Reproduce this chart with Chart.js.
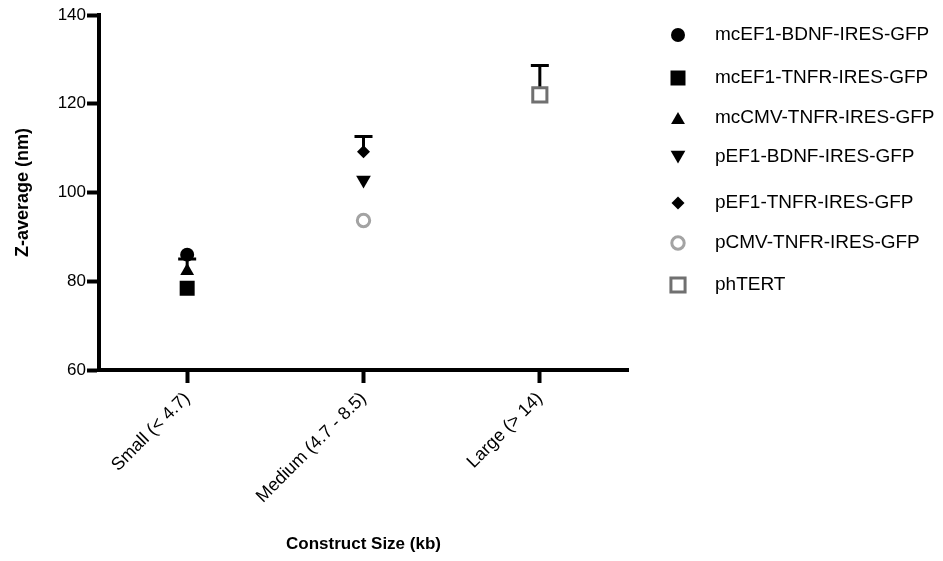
<!DOCTYPE html>
<html>
<head>
<meta charset="utf-8">
<script src="https://cdn.jsdelivr.net/npm/chart.js@4"></script>
<style>
    html, body { margin: 0; padding: 0; background: #fff; }
    #wrap { width: 943px; height: 561px; position: relative; }
</style>
</head>
<body>
<div id="wrap"><canvas id="zavg-chart"></canvas></div>
<script>
// Z-average by construct size, one series per plasmid
const categories = ['Small (< 4.7)', 'Medium (4.7 - 8.5)', 'Large (> 14)'];
const seriesNames = [
    'mcEF1-BDNF-IRES-GFP',
    'mcEF1-TNFR-IRES-GFP',
    'mcCMV-TNFR-IRES-GFP',
    'pEF1-BDNF-IRES-GFP',
    'pEF1-TNFR-IRES-GFP',
    'pCMV-TNFR-IRES-GFP',
    'phTERT',
];
const yTicks = [60, 80, 100, 120, 140];

const mcEF1Bdnf = [86.0, null, null];
const mcEF1Tnfr = [78.4, null, null];
const mcCmvTnfr = [82.3, null, null];
const pEF1Bdnf = [null, 102.8, null];
const pEF1Tnfr = [null, 109.2, null];
const pCmvTnfr = [null, 93.7, null];
const phTert = [null, null, 122.0];

// upper error bars (only the visible ones)
const mcCmvTnfrErr = [2.7, null, null];
const pEF1TnfrErr = [null, 3.4, null];
const phTertErr = [null, null, 6.6];

// ============================================
// MARKER STYLES
// ============================================
const markers = [
    { style: 'circle', r: 7, fill: '#000', stroke: '#000', bw: 0 },
    { style: 'rect', r: 10.6, fill: '#000', stroke: '#000', bw: 0 },
    { style: 'triangle', r: 8, fill: '#000', stroke: '#000', bw: 0 },
    { style: 'triangle', r: 8.5, fill: '#000', stroke: '#000', bw: 0, rot: 180 },
    { style: 'rectRot', r: 6.5, fill: '#000', stroke: '#000', bw: 0 },
    { style: 'circle', r: 6.2, fill: '#fff', stroke: '#a3a3a3', bw: 3 },
    { style: 'rect', r: 10, fill: '#fff', stroke: '#707070', bw: 3 },
];

const seriesData = [mcEF1Bdnf, mcEF1Tnfr, mcCmvTnfr, pEF1Bdnf, pEF1Tnfr, pCmvTnfr, phTert];
const seriesErr = [null, null, mcCmvTnfrErr, null, pEF1TnfrErr, null, phTertErr];

const font = "'Liberation Sans', Arial, Helvetica, sans-serif";

// error bars, drawn behind the markers
const errorBars = {
    id: 'errorBars',
    beforeDatasetsDraw(chart) {
        const ctx = chart.ctx;
        const y = chart.scales.y;
        ctx.save();
        ctx.strokeStyle = '#000';
        ctx.lineWidth = 3;
        chart.data.datasets.forEach((ds, di) => {
            const err = seriesErr[di];
            if (!err) return;
            const meta = chart.getDatasetMeta(di);
            ds.data.forEach((v, i) => {
                if (v == null || err[i] == null) return;
                const pt = meta.data[i];
                const top = y.getPixelForValue(v + err[i]);
                ctx.beginPath();
                ctx.moveTo(pt.x, pt.y);
                ctx.lineTo(pt.x, top);
                ctx.moveTo(pt.x - 9, top);
                ctx.lineTo(pt.x + 9, top);
                ctx.stroke();
            });
        });
        ctx.restore();
    },
};

// legend on the right, rows are not evenly spaced in the original
const sideLegend = {
    id: 'sideLegend',
    afterDraw(chart) {
        const ctx = chart.ctx;
        const rows = [35, 78, 118, 157, 203, 243, 285];
        ctx.save();
        ctx.font = '19px ' + font;
        ctx.textBaseline = 'middle';
        seriesNames.forEach((name, i) => {
            const m = markers[i];
            ctx.fillStyle = m.fill;
            ctx.strokeStyle = m.stroke;
            ctx.lineWidth = m.bw;
            Chart.helpers.drawPoint(ctx, {
                pointStyle: m.style,
                radius: m.r,
                rotation: m.rot || 0,
                borderWidth: m.bw,
            }, 678, rows[i] + (m.style === 'triangle' ? (m.rot ? -2 : 2) : 0));
            ctx.fillStyle = '#000';
            ctx.fillText(name, 715, rows[i]);
        });
        ctx.restore();
    },
};

function createChart() {
    const ctx = document.getElementById('zavg-chart');

    new Chart(ctx, {
        type: 'line',
        data: {
            labels: categories,
            datasets: seriesData.map((d, i) => ({
                label: seriesNames[i],
                data: d,
                showLine: false,
                pointStyle: markers[i].style,
                pointRadius: markers[i].r,
                pointRotation: markers[i].rot || 0,
                pointBackgroundColor: markers[i].fill,
                pointBorderColor: markers[i].stroke,
                pointBorderWidth: markers[i].bw,
            })),
        },
        options: {
            responsive: true,
            maintainAspectRatio: false,
            animation: false,
            layout: {
                padding: { top: 15, right: 315, bottom: 0, left: 0 },
            },
            plugins: {
                legend: { display: false },
                tooltip: { enabled: false },
            },
            scales: {
                x: {
                    offset: true,
                    border: { color: '#000', width: 4 },
                    grid: {
                        drawOnChartArea: false,
                        tickLength: 13,
                        tickWidth: 4,
                        tickColor: '#000',
                        offset: false,
                    },
                    ticks: {
                        color: '#000',
                        font: { family: font, size: 18 },
                        minRotation: 45,
                        maxRotation: 45,
                        padding: 5,
                    },
                    title: {
                        display: true,
                        text: 'Construct Size (kb)',
                        color: '#000',
                        font: { family: font, size: 17, weight: 'bold' },
                        padding: { top: 0, bottom: 6 },
                    },
                    afterFit(scale) {
                        scale.height = 191;
                    },
                },
                y: {
                    min: 60,
                    max: 140,
                    afterBuildTicks(scale) {
                        scale.ticks = yTicks.map((v) => ({ value: v }));
                    },
                    border: { color: '#000', width: 4 },
                    grid: {
                        drawOnChartArea: false,
                        tickLength: 12,
                        tickWidth: 4,
                        tickColor: '#000',
                    },
                    ticks: {
                        color: '#000',
                        font: { family: font, size: 17 },
                        padding: 1,
                    },
                    title: {
                        display: true,
                        text: 'Z-average (nm)',
                        color: '#000',
                        font: { family: font, size: 18, weight: 'bold' },
                        padding: { top: 12, bottom: 0 },
                    },
                    afterFit(scale) {
                        scale.width = 99;
                    },
                },
            },
        },
        plugins: [errorBars, sideLegend],
    });
}

document.addEventListener('DOMContentLoaded', createChart);
</script>
</body>
</html>
